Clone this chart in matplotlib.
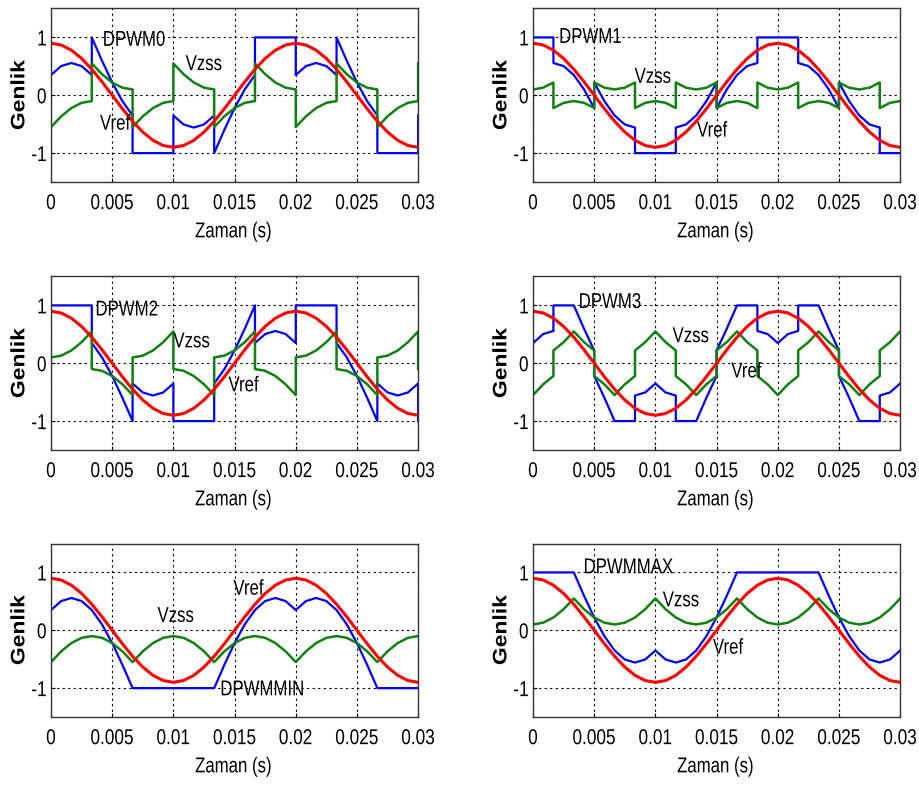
import numpy as np
import matplotlib
matplotlib.use('Agg')
import matplotlib.pyplot as plt
from matplotlib.patheffects import AbstractPathEffect
from matplotlib.transforms import Affine2D

plt.rcParams['font.family'] = ['Liberation Sans', 'DejaVu Sans']

# zaman ekseni: 0 .. 0.03 s, 15 derecelik adimlar (37 nokta)
t = np.linspace(0, 0.03, 37)

# (sol, sag) ikilileri sicrama noktalarini gosterir
vref = [0.9, 0.869, 0.779, 0.636, 0.45, 0.233, 0.0, -0.233, -0.45, -0.636, -0.779, -0.869,
        -0.9, -0.869, -0.779, -0.636, -0.45, -0.233, 0.0, 0.233, 0.45, 0.636, 0.779, 0.869,
        0.9, 0.869, 0.779, 0.636, 0.45, 0.233, 0.0, -0.233, -0.45, -0.636, -0.779, -0.869, -0.9]

dpwm0_zss = [-0.55, -0.364, -0.221, -0.131, (-0.1, 0.55), 0.364, 0.221, 0.131, (0.1, -0.55),
             -0.364, -0.221, -0.131, (-0.1, 0.55), 0.364, 0.221, 0.131, (0.1, -0.55),
             -0.364, -0.221, -0.131, (-0.1, 0.55), 0.364, 0.221, 0.131, (0.1, -0.55),
             -0.364, -0.221, -0.131, (-0.1, 0.55), 0.364, 0.221, 0.131, (0.1, -0.55),
             -0.364, -0.221, -0.131, (-0.1, 0.55)]
dpwm0_out = [0.35, 0.505, 0.558, 0.505, (0.35, 1.0), 0.597, 0.221, -0.102, (-0.35, -1.0),
             -1.0, -1.0, -1.0, (-1.0, -0.35), -0.505, -0.558, -0.505, (-0.35, -1.0),
             -0.597, -0.221, 0.102, (0.35, 1.0), 1.0, 1.0, 1.0, (1.0, 0.35),
             0.505, 0.558, 0.505, (0.35, 1.0), 0.597, 0.221, -0.102, (-0.35, -1.0),
             -1.0, -1.0, -1.0, (-1.0, -0.35)]

dpwm1_zss = [0.1, 0.131, (0.221, -0.221), -0.131, -0.1, -0.131, (-0.221, 0.221), 0.131,
             0.1, 0.131, (0.221, -0.221), -0.131, -0.1, -0.131, (-0.221, 0.221), 0.131,
             0.1, 0.131, (0.221, -0.221), -0.131, -0.1, -0.131, (-0.221, 0.221), 0.131,
             0.1, 0.131, (0.221, -0.221), -0.131, -0.1, -0.131, (-0.221, 0.221), 0.131,
             0.1, 0.131, (0.221, -0.221), -0.131, -0.1]
dpwm1_out = [1.0, 1.0, (1.0, 0.558), 0.505, 0.35, 0.102, (-0.221, 0.221), -0.102,
             -0.35, -0.505, (-0.558, -1.0), -1.0, -1.0, -1.0, (-1.0, -0.558), -0.505,
             -0.35, -0.102, (0.221, -0.221), 0.102, 0.35, 0.505, (0.558, 1.0), 1.0,
             1.0, 1.0, (1.0, 0.558), 0.505, 0.35, 0.102, (-0.221, 0.221), -0.102,
             -0.35, -0.505, (-0.558, -1.0), -1.0, -1.0]

dpwm2_zss = [0.1, 0.131, 0.221, 0.364, (0.55, -0.1), -0.131, -0.221, -0.364, (-0.55, 0.1),
             0.131, 0.221, 0.364, (0.55, -0.1), -0.131, -0.221, -0.364, (-0.55, 0.1),
             0.131, 0.221, 0.364, (0.55, -0.1), -0.131, -0.221, -0.364, (-0.55, 0.1),
             0.131, 0.221, 0.364, (0.55, -0.1), -0.131, -0.221, -0.364, (-0.55, 0.1),
             0.131, 0.221, 0.364, (0.55, -0.1)]
dpwm2_out = [1.0, 1.0, 1.0, 1.0, (1.0, 0.35), 0.102, -0.221, -0.597, (-1.0, -0.35),
             -0.505, -0.558, -0.505, (-0.35, -1.0), -1.0, -1.0, -1.0, (-1.0, -0.35),
             -0.102, 0.221, 0.597, (1.0, 0.35), 0.505, 0.558, 0.505, (0.35, 1.0),
             1.0, 1.0, 1.0, (1.0, 0.35), 0.102, -0.221, -0.597, (-1.0, -0.35),
             -0.505, -0.558, -0.505, (-0.35, -1.0)]

dpwm3_zss = [-0.55, -0.364, (-0.221, 0.221), 0.364, 0.55, 0.364, (0.221, -0.221), -0.364,
             -0.55, -0.364, (-0.221, 0.221), 0.364, 0.55, 0.364, (0.221, -0.221), -0.364,
             -0.55, -0.364, (-0.221, 0.221), 0.364, 0.55, 0.364, (0.221, -0.221), -0.364,
             -0.55, -0.364, (-0.221, 0.221), 0.364, 0.55, 0.364, (0.221, -0.221), -0.364,
             -0.55, -0.364, (-0.221, 0.221), 0.364, 0.55]
dpwm3_out = [0.35, 0.505, (0.558, 1.0), 1.0, 1.0, 0.597, (0.221, -0.221), -0.597,
             -1.0, -1.0, (-1.0, -0.558), -0.505, -0.35, -0.505, (-0.558, -1.0), -1.0,
             -1.0, -0.597, (-0.221, 0.221), 0.597, 1.0, 1.0, (1.0, 0.558), 0.505,
             0.35, 0.505, (0.558, 1.0), 1.0, 1.0, 0.597, (0.221, -0.221), -0.597,
             -1.0, -1.0, (-1.0, -0.558), -0.505, -0.35]

dpwmmin_zss = [-0.55, -0.364, -0.221, -0.131, -0.1, -0.131, -0.221, -0.364,
               -0.55, -0.364, -0.221, -0.131, -0.1, -0.131, -0.221, -0.364,
               -0.55, -0.364, -0.221, -0.131, -0.1, -0.131, -0.221, -0.364,
               -0.55, -0.364, -0.221, -0.131, -0.1, -0.131, -0.221, -0.364,
               -0.55, -0.364, -0.221, -0.131, -0.1]
dpwmmin_out = [0.35, 0.505, 0.558, 0.505, 0.35, 0.102, -0.221, -0.597,
               -1.0, -1.0, -1.0, -1.0, -1.0, -1.0, -1.0, -1.0,
               -1.0, -0.597, -0.221, 0.102, 0.35, 0.505, 0.558, 0.505,
               0.35, 0.505, 0.558, 0.505, 0.35, 0.102, -0.221, -0.597,
               -1.0, -1.0, -1.0, -1.0, -1.0]

dpwmmax_zss = [0.1, 0.131, 0.221, 0.364, 0.55, 0.364, 0.221, 0.131,
               0.1, 0.131, 0.221, 0.364, 0.55, 0.364, 0.221, 0.131,
               0.1, 0.131, 0.221, 0.364, 0.55, 0.364, 0.221, 0.131,
               0.1, 0.131, 0.221, 0.364, 0.55, 0.364, 0.221, 0.131,
               0.1, 0.131, 0.221, 0.364, 0.55]
dpwmmax_out = [1.0, 1.0, 1.0, 1.0, 1.0, 0.597, 0.221, -0.102,
               -0.35, -0.505, -0.558, -0.505, -0.35, -0.505, -0.558, -0.505,
               -0.35, -0.102, 0.221, 0.597, 1.0, 1.0, 1.0, 1.0,
               1.0, 1.0, 1.0, 1.0, 1.0, 0.597, 0.221, -0.102,
               -0.35, -0.505, -0.558, -0.505, -0.35]

names = ['DPWM0', 'DPWM1', 'DPWM2', 'DPWM3', 'DPWMMIN', 'DPWMMAX']
zss_list = [dpwm0_zss, dpwm1_zss, dpwm2_zss, dpwm3_zss, dpwmmin_zss, dpwmmax_zss]
out_list = [dpwm0_out, dpwm1_out, dpwm2_out, dpwm3_out, dpwmmin_out, dpwmmax_out]

# etiket konumlari (x, y): isim, Vzss, Vref
label_pos = [
    [(0.0042, 0.95), (0.0110, 0.53), (0.0040, -0.50)],
    [(0.0021, 1.00), (0.0083, 0.31), (0.0134, -0.62)],
    [(0.0036, 0.92), (0.0100, 0.37), (0.0145, -0.39)],
    [(0.0037, 1.05), (0.0114, 0.46), (0.0162, -0.15)],
    [(0.0138, -1.03), (0.0087, 0.24), (0.0149, 0.71)],
    [(0.0041, 1.08), (0.0106, 0.51), (0.0147, -0.31)],
]

xticks = [0, 0.005, 0.01, 0.015, 0.02, 0.025, 0.03]
xtick_labels = ['0', '0.005', '0.01', '0.015', '0.02', '0.025', '0.03']


class Squash(AbstractPathEffect):
    # yazilari yatayda daralt (orijinal resim yatayda sikistirilmis)
    def __init__(self, sx=0.78, anchor='center'):
        super().__init__()
        self.sx = sx
        self.anchor = anchor

    def draw_path(self, renderer, gc, tpath, affine, rgbFace=None):
        ext = tpath.get_extents(affine)
        if self.anchor == 'left':
            x0 = ext.x0
        elif self.anchor == 'right':
            x0 = ext.x1
        else:
            x0 = (ext.x0 + ext.x1) / 2
        tr = affine + Affine2D().translate(-x0, 0).scale(self.sx, 1).translate(x0, 0)
        renderer.draw_path(gc, tpath, tr, rgbFace)


def expand(values):
    xs, ys = [], []
    for ti, v in zip(t, values):
        if isinstance(v, tuple):
            xs += [ti, ti]
            ys += list(v)
        else:
            xs.append(ti)
            ys.append(v)
    return xs, ys


fig = plt.figure(figsize=(9.19, 7.87), dpi=100)

lefts = [0.0555, 0.580]
bottoms = [0.7687, 0.4282, 0.0889]
w, h = 0.3995, 0.2205
fs = 15.5

for i, name in enumerate(names):
    ax = fig.add_axes([lefts[i % 2], bottoms[i // 2], w, h])

    x, y = expand(out_list[i])
    ax.plot(x, y, color='#0000ff', lw=1.6)
    x, y = expand(zss_list[i])
    ax.plot(x, y, color='#108010', lw=1.8)
    ax.plot(t, vref, color='#ff0000', lw=2.2)

    ax.set_xlim(0, 0.03)
    ax.set_ylim(-1.5, 1.5)
    ax.set_xticks(xticks)
    ax.set_xticklabels(xtick_labels)
    ax.set_yticks([-1, 0, 1])
    ax.set_yticklabels(['-1', '0', '1'])
    ax.tick_params(direction='in', length=3, labelsize=fs)
    ax.tick_params(axis='x', pad=8)
    ax.tick_params(axis='y', pad=3)
    ax.grid(True, color='black', linestyle=(0, (2, 3)), linewidth=0.8)
    for s in ax.spines.values():
        s.set_color('#333333')
        s.set_linewidth(1.0)

    for lbl in ax.get_xticklabels():
        lbl.set_path_effects([Squash(0.8, 'center')])
    for lbl in ax.get_yticklabels():
        lbl.set_path_effects([Squash(0.8, 'right')])

    ax.set_xlabel('Zaman (s)', fontsize=fs, va='center',
                  path_effects=[Squash(0.78, 'center')])
    ax.xaxis.set_label_coords(0.496, -0.287)
    ax.set_ylabel('Genlik', fontsize=16.5, fontweight='bold', va='center',
                  path_effects=[Squash(0.85, 'center')])
    ax.yaxis.set_label_coords(-0.087, 0.5)

    (nx, ny), (zx, zy), (rx, ry) = label_pos[i]
    for tx, ty, s in [(nx, ny, name), (zx, zy, 'Vzss'), (rx, ry, 'Vref')]:
        ax.text(tx, ty, s, fontsize=fs, va='center', ha='left',
                path_effects=[Squash(0.78, 'left')])

plt.savefig('out.png', dpi=100)
